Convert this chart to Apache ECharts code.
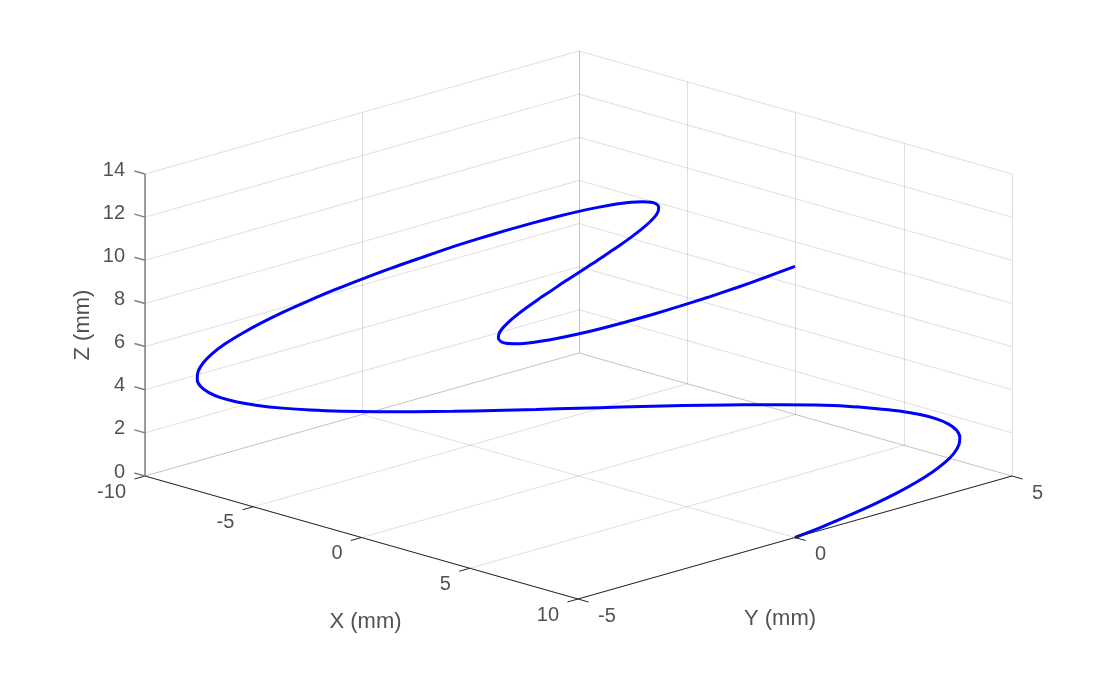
<!DOCTYPE html>
<html>
<head>
<meta charset="utf-8">
<title>3D trajectory</title>
<script src="https://cdn.jsdelivr.net/npm/echarts@6/dist/echarts.min.js"></script>
<style>
  html, body { margin: 0; padding: 0; background: #fff; }
  #chart { width: 1119px; height: 674px; }
</style>
</head>
<body>
<div id="chart"></div>
<script>
// axis limits and ticks
const xRange = [-10, 10]
const yRange = [-5, 5]
const zRange = [0, 14]
const xTicks = [-10, -5, 0, 5, 10]
const yTicks = [-5, 0, 5]
const zTicks = [0, 2, 4, 6, 8, 10, 12, 14]

// trajectory samples (mm)
const xs = [10, 9.98, 9.91, 9.81, 9.66, 9.47, 9.24, 8.97, 8.66, 8.31, 7.93, 7.52, 7.07,
  6.59, 6.09, 5.56, 5, 4.42, 3.83, 3.21, 2.59, 1.95, 1.31, 0.65, 0,
  -0.65, -1.31, -1.95, -2.59, -3.21, -3.83, -4.42, -5, -5.56, -6.09, -6.59, -7.07,
  -7.52, -7.93, -8.31, -8.66, -8.97, -9.24, -9.47, -9.66, -9.81, -9.91, -9.98, -10,
  -9.98, -9.91, -9.81, -9.66, -9.47, -9.24, -8.97, -8.66, -8.31, -7.93, -7.52, -7.07,
  -6.59, -6.09, -5.56, -5, -4.42, -3.83, -3.21, -2.59, -1.95, -1.31, -0.65, 0,
  0.65, 1.31, 1.95, 2.59, 3.21, 3.83, 4.42, 5, 5.56, 6.09, 6.59, 7.07,
  7.52, 7.93, 8.31, 8.66, 8.97, 9.24, 9.47, 9.66, 9.81, 9.91, 9.98, 10]
const ys = [0, 0.65, 1.29, 1.91, 2.5, 3.04, 3.54, 3.97, 4.33, 4.62, 4.83, 4.96, 5,
  4.96, 4.83, 4.62, 4.33, 3.97, 3.54, 3.04, 2.5, 1.91, 1.29, 0.65, 0,
  -0.65, -1.29, -1.91, -2.5, -3.04, -3.54, -3.97, -4.33, -4.62, -4.83, -4.96, -5,
  -4.96, -4.83, -4.62, -4.33, -3.97, -3.54, -3.04, -2.5, -1.91, -1.29, -0.65, 0,
  0.65, 1.29, 1.91, 2.5, 3.04, 3.54, 3.97, 4.33, 4.62, 4.83, 4.96, 5,
  4.96, 4.83, 4.62, 4.33, 3.97, 3.54, 3.04, 2.5, 1.91, 1.29, 0.65, 0,
  -0.65, -1.29, -1.91, -2.5, -3.04, -3.54, -3.97, -4.33, -4.62, -4.83, -4.96, -5,
  -4.96, -4.83, -4.62, -4.33, -3.97, -3.54, -3.04, -2.5, -1.91, -1.29, -0.65, 0]
const zs = [0, 0.13, 0.26, 0.39, 0.52, 0.65, 0.79, 0.92, 1.05, 1.18, 1.31, 1.44, 1.57,
  1.7, 1.83, 1.96, 2.09, 2.23, 2.36, 2.49, 2.62, 2.75, 2.88, 3.01, 3.14,
  3.27, 3.4, 3.53, 3.67, 3.8, 3.93, 4.06, 4.19, 4.32, 4.45, 4.58, 4.71,
  4.84, 4.97, 5.11, 5.24, 5.37, 5.5, 5.63, 5.76, 5.89, 6.02, 6.15, 6.28,
  6.41, 6.54, 6.68, 6.81, 6.94, 7.07, 7.2, 7.33, 7.46, 7.59, 7.72, 7.85,
  7.98, 8.12, 8.25, 8.38, 8.51, 8.64, 8.77, 8.9, 9.03, 9.16, 9.29, 9.42,
  9.56, 9.69, 9.82, 9.95, 10.08, 10.21, 10.34, 10.47, 10.6, 10.73, 10.86, 11,
  11.13, 11.26, 11.39, 11.52, 11.65, 11.78, 11.91, 12.04, 12.17, 12.3, 12.44, 12.57]

// orthographic view of the plot box, in page pixels
const view = { ox: 145, oy: 476, xv: [433, 123], yv: [434, -123], zv: [0, -302] }
const font = 'Liberation Sans, Arial, Helvetica, sans-serif'
const gridColor = 'rgba(38,38,38,0.15)'
const axisColor = '#262626'
const tickLen = 11

function project(x, y, z) {
  const u = (x - xRange[0]) / (xRange[1] - xRange[0])
  const v = (y - yRange[0]) / (yRange[1] - yRange[0])
  const w = (z - zRange[0]) / (zRange[1] - zRange[0])
  return [
    view.ox + u * view.xv[0] + v * view.yv[0] + w * view.zv[0],
    view.oy + u * view.xv[1] + v * view.yv[1] + w * view.zv[1],
  ]
}

function unit(vec, len) {
  const n = Math.hypot(vec[0], vec[1])
  return [vec[0] / n * len, vec[1] / n * len]
}

const [x0, x1] = xRange
const [y0, y1] = yRange
const [z0, z1] = zRange

// grid lines on the floor and the two back walls
const gridSegs = []
xTicks.forEach(x => gridSegs.push([project(x, y0, z0), project(x, y1, z0)]))
yTicks.forEach(y => gridSegs.push([project(x0, y, z0), project(x1, y, z0)]))
zTicks.forEach(z => gridSegs.push([project(x0, y0, z), project(x0, y1, z)]))
yTicks.forEach(y => gridSegs.push([project(x0, y, z0), project(x0, y, z1)]))
zTicks.forEach(z => gridSegs.push([project(x0, y1, z), project(x1, y1, z)]))
xTicks.forEach(x => gridSegs.push([project(x, y1, z0), project(x, y1, z1)]))

// axis lines and tick marks
const axisSegs = []
const zAxisSegs = []
axisSegs.push([project(x0, y0, z0), project(x1, y0, z0)])
axisSegs.push([project(x1, y0, z0), project(x1, y1, z0)])
zAxisSegs.push([project(x0, y0, z0), project(x0, y0, z1)])
const tx = unit([-view.yv[0], -view.yv[1]], tickLen)
const ty = unit(view.xv, tickLen)
const tz = unit([-view.xv[0], -view.xv[1]], tickLen)
xTicks.forEach(x => { const p = project(x, y0, z0); axisSegs.push([p, [p[0] + tx[0], p[1] + tx[1]]]) })
yTicks.forEach(y => { const p = project(x1, y, z0); axisSegs.push([p, [p[0] + ty[0], p[1] + ty[1]]]) })
zTicks.forEach(z => { const p = project(x0, y0, z); zAxisSegs.push([p, [p[0] + tz[0], p[1] + tz[1]]]) })

const curve = xs.map((x, i) => project(x, ys[i], zs[i]))

function labelSeries(items, align, extra) {
  return {
    type: 'scatter',
    silent: true,
    symbolSize: 1,
    itemStyle: { color: 'rgba(0,0,0,0)' },
    data: items,
    label: Object.assign({
      show: true,
      position: 'inside',
      align: align,
      verticalAlign: 'middle',
      formatter: '{b}',
      fontSize: 20,
      fontFamily: font,
      color: axisColor,
    }, extra || {}),
    z: 5,
  }
}

const xLabels = xTicks.map(x => { const p = project(x, y0, z0); return { name: String(x), value: [p[0] - 19, p[1] + 16] } })
const yLabels = yTicks.map(y => { const p = project(x1, y, z0); return { name: String(y), value: [p[0] + 20, p[1] + 17] } })
const zLabels = zTicks.map(z => { const p = project(x0, y0, z); return { name: String(z), value: [p[0] - 20, p[1] - 4] } })

const xMid = project((x0 + x1) / 2, y0, z0)
const yMid = project(x1, (y0 + y1) / 2, z0)
const zMid = project(x0, y0, (z0 + z1) / 2)

const chart = echarts.init(document.getElementById('chart'))
chart.setOption({
  animation: false,
  backgroundColor: '#ffffff',
  grid: { left: 0, right: 0, top: 0, bottom: 0 },
  xAxis: { type: 'value', min: 0, max: 1119, show: false },
  yAxis: { type: 'value', min: 0, max: 674, inverse: true, show: false },
  series: [
    {
      type: 'lines',
      coordinateSystem: 'cartesian2d',
      silent: true,
      lineStyle: { color: gridColor, width: 1, opacity: 1 },
      data: gridSegs.map(c => ({ coords: c })),
      z: 1,
    },
    {
      type: 'line',
      data: curve,
      showSymbol: false,
      smooth: 0.3,
      silent: true,
      lineStyle: { color: '#0000ff', width: 3 },
      z: 3,
    },
    {
      type: 'lines',
      coordinateSystem: 'cartesian2d',
      silent: true,
      lineStyle: { color: axisColor, width: 1, opacity: 1 },
      data: axisSegs.map(c => ({ coords: c })),
      z: 4,
    },
    {
      type: 'lines',
      coordinateSystem: 'cartesian2d',
      silent: true,
      lineStyle: { color: '#808080', width: 1.5, opacity: 1 },
      data: zAxisSegs.map(c => ({ coords: c })),
      z: 4,
    },
    labelSeries(xLabels, 'right'),
    labelSeries(yLabels, 'left'),
    labelSeries(zLabels, 'right'),
    labelSeries([
      { name: 'X (mm)', value: [xMid[0] + 4, xMid[1] + 84] },
      { name: 'Y (mm)', value: [yMid[0] - 15, yMid[1] + 81] },
    ], 'center', { fontSize: 22 }),
    labelSeries([
      { name: 'Z (mm)', value: [zMid[0] - 62, zMid[1]] },
    ], 'center', { fontSize: 22, rotate: 90 }),
  ],
})
</script>
</body>
</html>
